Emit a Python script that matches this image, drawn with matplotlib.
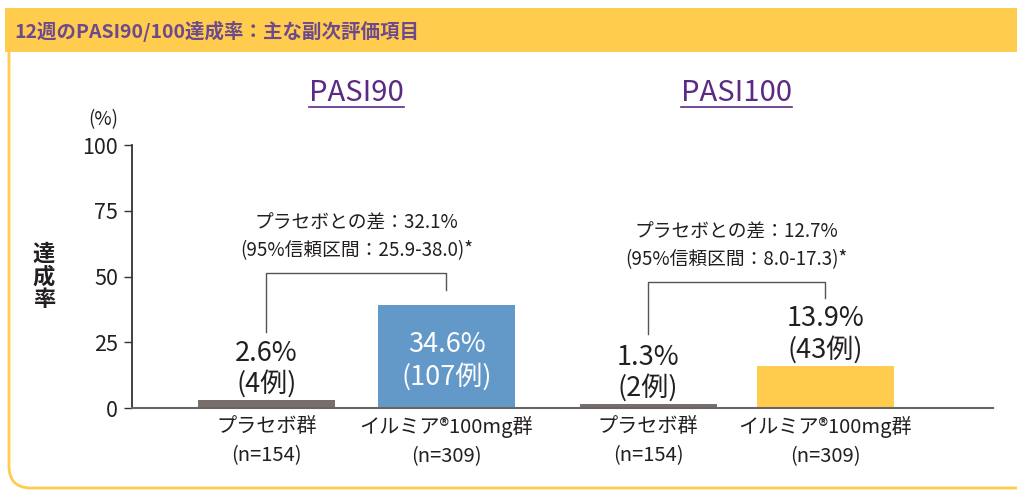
import matplotlib.pyplot as plt
from matplotlib.patches import FancyBboxPatch, Rectangle
from matplotlib.transforms import IdentityTransform

plt.rcParams['font.family'] = ['Noto Sans CJK JP', 'DejaVu Sans']

title = "12週のPASI90/100達成率：主な副次評価項目"
groups = ["PASI90", "PASI100"]
arms = ["プラセボ群\n(n=154)", "イルミア®100mg群\n(n=309)",
        "プラセボ群\n(n=154)", "イルミア®100mg群\n(n=309)"]
rates = ["2.6%", "34.6%", "1.3%", "13.9%"]
cases = ["(4例)", "(107例)", "(2例)", "(43例)"]
# bar heights as drawn in the reference (its bars run a little taller than the axis scale)
heights = [3.0, 39.2, 1.5, 16.0]
diffs = ["プラセボとの差：32.1%\n(95%信頼区間：25.9-38.0)*",
         "プラセボとの差：12.7%\n(95%信頼区間：8.0-17.3)*"]
bracket_top = [51.3, 47.9]
bracket_legs = [(28.9, 44.9), (28.1, 41.8)]
yticks = [0, 25, 50, 75, 100]

pos = [0, 1, 2.12, 3.105]
colors = ["#7a6e6b", "#6399c8", "#7a6e6b", "#ffcc4e"]
yellow = "#ffcc4e"
purple = "#5b2a82"
dark = "#231f20"

fig = plt.figure(figsize=(10.17, 4.9), dpi=100)

# frame and title band (pixel coords)
frame = FancyBboxPatch((9, 2), 1100, 470, boxstyle="round,pad=0,rounding_size=22",
                       transform=IdentityTransform(), fill=False, ec=yellow, lw=2.0)
fig.patches.append(frame)
band = Rectangle((5, 438), 1012, 44, transform=IdentityTransform(), fc=yellow, ec="none")
fig.patches.append(band)
fig.text(14 / 1017, 1 - 31 / 490, title, fontsize=14, fontweight="bold",
         color="#6c4a8c", va="center", ha="left")

ax = fig.add_axes([132 / 1017, 1 - 408 / 490, (993 - 132) / 1017, (408 - 145) / 490])
ax.bar(pos, heights, width=0.76, color=colors, zorder=2)
ax.set_xlim(-0.747, 4.036)
ax.set_ylim(0, 100)

for s in ["top", "right"]:
    ax.spines[s].set_visible(False)
ax.spines["left"].set_color("#333333")
ax.spines["left"].set_linewidth(1.3)
ax.spines["bottom"].set_color("#666666")
ax.spines["bottom"].set_linewidth(1.5)

ax.set_yticks(yticks)
ax.tick_params(axis="y", length=6, width=1, color="#333333", labelsize=15.5,
               labelcolor=dark, pad=4)
ax.set_xticks(pos, arms)
ax.tick_params(axis="x", length=0, labelsize=14.5, labelcolor=dark, pad=6)
for lab in ax.get_xticklabels():
    lab.set_linespacing(1.5)

# value labels
for x, h, r, c in zip(pos, heights, rates, cases):
    if h > 30:
        col, off_r, off_c = "white", -40, -72
    else:
        col, off_r, off_c = dark, 47, 16
    ax.annotate(r, (x, h), xytext=(0, off_r), textcoords="offset pixels",
                ha="center", va="center", fontsize=19.5, color=col)
    ax.annotate(c, (x, h), xytext=(0, off_c), textcoords="offset pixels",
                ha="center", va="center", fontsize=19.5, color=col)

# brackets with difference text
for i in range(2):
    x0, x1 = pos[2 * i], pos[2 * i + 1]
    top = bracket_top[i]
    l0, l1 = bracket_legs[i]
    ax.plot([x0, x0, x1, x1], [l0, top, top, l1], color="#555555", lw=1,
            clip_on=False, zorder=3)
    ax.text((x0 + x1) / 2, top + 13.8, diffs[i], ha="center", va="center",
            fontsize=13.5, color=dark, linespacing=1.45)

# group titles with underline
titles = []
for i, g in enumerate(groups):
    xc = (pos[2 * i] + pos[2 * i + 1]) / 2
    t = ax.text(xc, 119.8, g, ha="center", va="center", fontsize=21,
                color=purple, clip_on=False)
    titles.append(t)

fig.text(118 / 1017, 1 - 120 / 490, "(%)", ha="right", va="center",
         fontsize=13.5, color=dark)
fig.text(44 / 1017, 1 - 277 / 490, "達\n成\n率", ha="center", va="center",
         fontsize=16, fontweight="bold", color=dark, linespacing=1.0)

fig.canvas.draw()
r = fig.canvas.get_renderer()
for t in titles:
    bb = t.get_window_extent(r)
    fig.add_artist(plt.Line2D([bb.x0, bb.x1], [490 - 107, 490 - 107],
                              transform=IdentityTransform(), color=purple, lw=1.2))

fig.savefig("out.png", dpi=100)
